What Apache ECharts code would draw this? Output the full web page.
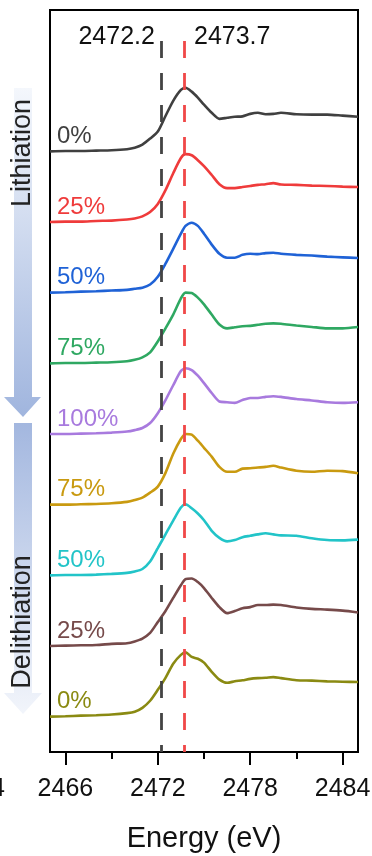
<!DOCTYPE html>
<html>
<head>
<meta charset="utf-8">
<script src="https://cdn.jsdelivr.net/npm/echarts@6/dist/echarts.min.js"></script>
<style>
    * { margin: 0; padding: 0; }
    #main { width: 372px; height: 856px; }
</style>
</head>
<body>
<div id="main"></div>
<script>
// energy grid (eV)
var energy = [2465, 2466, 2467, 2468, 2469, 2470, 2470.5, 2471, 2471.5, 2472, 2472.5, 2473, 2473.5, 2473.8, 2474.2, 2474.6, 2475,
    2475.5, 2476, 2476.5, 2477, 2477.5, 2478, 2478.5, 2479, 2479.5, 2480, 2481, 2482, 2483, 2484, 2485];

// normalized spectra, top to bottom
var lith0 = [0, 0.01, 0.01, 0.02, 0.03, 0.06, 0.1, 0.19, 0.36, 0.56, 1.0, 1.43, 1.74, 1.8, 1.69, 1.52, 1.32,
    1.09, 0.92, 0.95, 0.98, 0.99, 1.06, 1.09, 1.05, 1.06, 1.09, 1.05, 1.04, 1.04, 1.01, 0.98];
var lith25 = [0, 0.01, 0.01, 0.03, 0.04, 0.07, 0.1, 0.16, 0.28, 0.51, 0.9, 1.38, 1.81, 1.92, 1.89, 1.75, 1.58,
    1.33, 1.07, 0.96, 0.96, 0.99, 1.02, 1.05, 1.07, 1.1, 1.06, 1.05, 1.03, 1.02, 1.0, 0.99];
var lith50 = [0, 0.01, 0.03, 0.04, 0.06, 0.08, 0.11, 0.14, 0.23, 0.45, 0.82, 1.24, 1.67, 1.89, 1.98, 1.89, 1.67,
    1.36, 1.1, 0.99, 0.99, 1.07, 1.1, 1.09, 1.12, 1.13, 1.1, 1.07, 1.05, 1.02, 1.0, 0.98];
var lith75 = [0, 0.01, 0.01, 0.02, 0.03, 0.06, 0.1, 0.17, 0.31, 0.62, 0.99, 1.38, 1.84, 2.0, 1.99, 1.86, 1.67,
    1.38, 1.1, 0.99, 1.02, 1.05, 1.06, 1.09, 1.12, 1.13, 1.12, 1.07, 1.03, 0.99, 0.99, 1.03];
var lith100 = [0, 0, 0.01, 0.02, 0.04, 0.07, 0.11, 0.17, 0.31, 0.59, 0.96, 1.38, 1.78, 1.86, 1.81, 1.65, 1.44,
    1.16, 0.92, 0.9, 0.88, 0.96, 1.02, 1.02, 1.05, 1.07, 1.05, 0.99, 0.95, 0.9, 0.88, 0.9];
var delith75 = [0, 0, 0.01, 0.02, 0.04, 0.08, 0.13, 0.2, 0.34, 0.51, 0.9, 1.44, 1.86, 2.0, 1.98, 1.81, 1.61,
    1.36, 1.07, 0.93, 0.93, 1.02, 1.03, 1.05, 1.07, 1.1, 1.05, 0.96, 0.93, 0.96, 0.95, 0.89];
var delith50 = [0, 0.01, 0.01, 0.02, 0.04, 0.07, 0.11, 0.18, 0.39, 0.77, 1.16, 1.55, 1.92, 2.01, 1.9, 1.75, 1.56,
    1.26, 1.06, 0.96, 1.0, 1.08, 1.12, 1.16, 1.19, 1.16, 1.13, 1.12, 1.05, 1.0, 0.99, 1.01];
var delith25 = [0, 0.01, 0.02, 0.03, 0.06, 0.08, 0.13, 0.21, 0.37, 0.68, 0.99, 1.36, 1.72, 1.89, 1.91, 1.81, 1.64,
    1.36, 1.1, 0.93, 0.99, 1.07, 1.1, 1.16, 1.16, 1.17, 1.16, 1.09, 1.05, 1.03, 1.0, 0.95];
var delith0 = [0, 0.01, 0.03, 0.04, 0.06, 0.1, 0.14, 0.25, 0.45, 0.76, 1.1, 1.5, 1.75, 1.82, 1.69, 1.64, 1.53,
    1.27, 1.05, 0.96, 1.0, 1.03, 1.07, 1.09, 1.1, 1.12, 1.09, 1.03, 1.02, 1.0, 0.99, 0.98];

var spectra = [lith0, lith25, lith50, lith75, lith100, delith75, delith50, delith25, delith0];
var names = ['0%', '25%', '50%', '75%', '100%', '75%', '50%', '25%', '0%'];
var colors = ['#404040', '#ef3b3b', '#1f62d6', '#2fa862', '#a87ade', '#c99a10', '#22c4c8', '#764a4a', '#8a8a12'];

var majorTicks = [2466, 2472, 2478, 2484];
var minorTicks = [2469, 2475, 2481];
var refLines = [2472.2, 2473.7];
var refColors = ['#444444', '#f04848'];

var step = 2;      // vertical offset between spectra
var font = 'Liberation Sans, Arial, sans-serif';

var chart = echarts.init(document.getElementById('main'));

var series = spectra.map(function (vals, i) {
    var off = (spectra.length - 1 - i) * step;
    return {
        type: 'line',
        name: names[i] + i,
        data: energy.map(function (e, k) { return [e, vals[k] + off]; }),
        showSymbol: false,
        smooth: 0.25,
        z: 3,
        lineStyle: { color: colors[i], width: 2.6 },
        markPoint: {
            symbol: 'circle', symbolSize: 0, silent: true,
            data: [{ coord: [2465.45, off + 0.42] }],
            label: {
                show: true, position: 'right', distance: 0, formatter: names[i],
                color: colors[i], fontSize: 24, fontFamily: font
            }
        }
    };
});

var lineTop = (spectra.length - 1) * step + 3.12;
series.push({
    type: 'line', data: [], z: 2,
    markLine: {
        symbol: 'none', silent: true, animation: false,
        label: { show: false },
        data: refLines.map(function (x, i) {
            return [{ coord: [x, lineTop], lineStyle: { color: refColors[i], width: 2.8, type: [17, 15] } },
                    { coord: [x, -1] }];
        })
    },
    markPoint: {
        symbol: 'circle', symbolSize: 0, silent: true,
        data: refLines.map(function (x, i) {
            return {
                coord: [x, lineTop + 0.1],
                label: {
                    show: true, formatter: String(x), position: i === 0 ? 'left' : 'right',
                    distance: i === 0 ? 6 : 10, color: '#111', fontSize: 25, fontFamily: font
                }
            };
        })
    }
});

var option = {
    animation: false,
    grid: {
        left: 50, right: 14, top: 10, bottom: 104, outerBoundsMode: 'none',
        show: true, borderColor: '#000', borderWidth: 2
    },
    xAxis: [{
        type: 'value', min: 2465, max: 2485,
        name: 'Energy (eV)', nameLocation: 'middle', nameGap: 72,
        nameTextStyle: { fontSize: 29, color: '#111', fontFamily: font },
        axisLine: { show: true, onZero: false, lineStyle: { color: '#000', width: 2 } },
        axisTick: { show: true, customValues: majorTicks, length: 13, lineStyle: { color: '#000', width: 2 } },
        axisLabel: {
            customValues: majorTicks, margin: 25, fontSize: 25, color: '#111', fontFamily: font,
            formatter: function (v) { return String(v); }
        },
        splitLine: { show: false }
    }, {
        type: 'value', min: 2465, max: 2485, position: 'bottom',
        axisLine: { show: false, onZero: false },
        axisTick: { show: true, customValues: minorTicks, length: 7, lineStyle: { color: '#000', width: 2 } },
        axisLabel: { show: false },
        splitLine: { show: false }
    }],
    yAxis: {
        type: 'value', min: -1, max: 20,
        axisLine: { show: false }, axisTick: { show: false },
        axisLabel: { show: false }, splitLine: { show: false }
    },
    graphic: [
        {
            type: 'polygon', z: 1,
            shape: { points: [[14, 88], [32, 88], [32, 397], [41, 397], [23, 417], [4, 397], [14, 397]] },
            style: {
                fill: new echarts.graphic.LinearGradient(0, 0, 0, 1, [
                    { offset: 0, color: '#f4f7fc' }, { offset: 1, color: '#a0b5de' }])
            }
        },
        {
            type: 'polygon', z: 1,
            shape: { points: [[14, 423], [32, 423], [32, 693], [42, 693], [23, 714], [4, 693], [14, 693]] },
            style: {
                fill: new echarts.graphic.LinearGradient(0, 0, 0, 1, [
                    { offset: 0, color: '#a3b7df' }, { offset: 1, color: '#f2f5fb' }])
            }
        },
        {
            type: 'text', x: 23, y: 153, rotation: Math.PI / 2, z: 5,
            style: { text: 'Lithiation', fontSize: 27, fontFamily: font, fill: '#222', align: 'center', verticalAlign: 'middle' }
        },
        {
            type: 'text', x: 23, y: 622, rotation: Math.PI / 2, z: 5,
            style: { text: 'Delithiation', fontSize: 27, fontFamily: font, fill: '#222', align: 'center', verticalAlign: 'middle' }
        },
        {
            type: 'text', x: 5, y: 789, z: 5,
            style: { text: '2484', fontSize: 25, fontFamily: font, fill: '#111', align: 'right', verticalAlign: 'middle' }
        }
    ],
    series: series
};

chart.setOption(option);
</script>
</body>
</html>
